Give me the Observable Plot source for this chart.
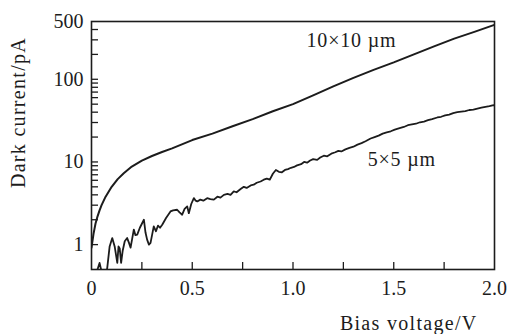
<!DOCTYPE html>
<html><head><meta charset="utf-8">
<script src="https://cdn.jsdelivr.net/npm/d3@7"></script>
<script src="https://cdn.jsdelivr.net/npm/@observablehq/plot@0.6"></script>
<style>body{margin:0;background:#fff}</style>
</head><body><div id="chart"></div>
<script>
// 10×10 µm device
const volts10 = [0, 0.01, 0.02, 0.03, 0.04, 0.05, 0.07, 0.1, 0.13, 0.16, 0.2, 0.25, 0.3, 0.35, 0.4, 0.5, 0.6, 0.7, 0.8, 0.9, 1.0, 1.1, 1.2, 1.3, 1.4, 1.5, 1.6, 1.7, 1.8, 1.9, 2.0];
const current10 = [0.92, 1.35, 1.8, 2.2, 2.6, 3.0, 3.8, 5.0, 6.2, 7.3, 8.8, 10.4, 11.8, 13.2, 14.6, 18.4, 22, 27, 33, 41, 50, 64, 82, 104, 130, 160, 200, 250, 310, 375, 455];
// 5×5 µm device
const volts5 = [0.02,0.04,0.052,0.065,0.078,0.09,0.103,0.115,0.128,0.134,0.14,0.147,0.155,0.165,0.177,0.186,0.194,0.21,0.218,0.227,0.24,0.26,0.268,0.276,0.285,0.293,0.309,0.32,0.33,0.34,0.351,0.37,0.392,0.405,0.425,0.437,0.45,0.462,0.475,0.483,0.495,0.508,0.517,0.525,0.54,0.555,0.574,0.59,0.607,0.625,0.64,0.657,0.675,0.69,0.706,0.72,0.74,0.756,0.77,0.79,0.805,0.82,0.839,0.855,0.87,0.885,0.9,0.915,0.93,0.945,0.96,0.975,0.99,1.005,1.02,1.04,1.055,1.07,1.085,1.1,1.12,1.135,1.153,1.17,1.19,1.21,1.225,1.24,1.26,1.28,1.3,1.32,1.34,1.36,1.385,1.405,1.425,1.445,1.465,1.485,1.505,1.525,1.55,1.57,1.59,1.61,1.63,1.65,1.67,1.69,1.716,1.735,1.755,1.775,1.795,1.815,1.835,1.855,1.875,1.895,1.915,1.935,1.955,1.975,1.99,2.0];
const current5 = [0.42,0.6,0.45,0.38,0.52,0.95,1.2,0.95,0.6,0.95,0.9,0.6,0.85,1.1,1.2,1.05,0.92,1.52,1.3,1.32,1.6,2.0,1.4,1.15,1.0,1.05,1.66,1.45,1.7,1.6,1.74,2.1,2.52,2.6,2.64,2.45,2.3,2.7,2.9,2.4,3.1,3.65,3.4,3.33,3.5,3.4,3.65,3.55,3.5,3.8,3.7,4.0,4.1,4.0,4.4,4.3,4.7,5.0,4.85,5.2,5.3,5.6,5.8,6.1,6.3,6.1,7.2,8.0,7.6,7.5,8.0,8.2,8.5,8.7,9.1,9.4,10.0,9.8,10.4,10.8,10.6,11.3,11.9,11.7,12.6,13.1,13.6,13.4,14.2,14.8,15.3,16.2,16.9,17.8,19.2,20.0,20.8,22.0,22.8,23.5,24.6,25.4,26.5,27.8,28.4,29.0,30.2,30.8,32.0,33.0,34.5,35.2,36.5,37.4,39.0,40.0,40.6,41.2,42.5,43.0,44.2,45.5,46.5,47.3,48.4,48.6];

const seriesNames = ["10×10 µm", "5×5 µm"];
const labelVolts = [1.29, 1.54];
const labelCurrents = [295, 10.6];

const xTickValues = [0, 0.5, 1.0, 1.5, 2.0];
const xTickLabels = ["0", "0.5", "1.0", "1.5", "2.0"];
const xMinorTicks = [0.25, 0.5, 0.75, 1.0, 1.25, 1.5, 1.75];
const yTickValues = [1, 10, 100, 500];
const yTickLabels = ["1", "10", "100", "500"];
const yMinorTicks = [1,2,3,4,5,6,7,8,9,10,20,30,40,50,60,70,80,90,100,200,300,400];

const xTitle = "Bias voltage/V";
const yTitle = "Dark current/pA";

const data10 = volts10.map((v, i) => ({V: v, I: current10[i]}));
const data5 = volts5.map((v, i) => ({V: v, I: current5[i]}));
const labels = seriesNames.map((s, i) => ({name: s, V: labelVolts[i], I: labelCurrents[i]}));
const yTicks = yTickValues.map((v, i) => ({I: v, label: yTickLabels[i]}));

const ink = "#1c1c1c";
const chart = Plot.plot({
  width: 508, height: 334,
  marginLeft: 91, marginRight: 14, marginTop: 21, marginBottom: 65,
  style: {fontFamily: "'Liberation Serif', 'Times New Roman', serif", fontSize: "20px", color: ink, background: "#fff"},
  x: {domain: [0, 2]},
  y: {type: "log", domain: [0.5, 500]},
  marks: [
    Plot.axisX(xMinorTicks, {tickSize: -7, text: null, label: null, strokeWidth: 1.3}),
    Plot.axisX(xTickValues, {tickSize: 0, tickPadding: 11, label: null, tickFormat: d => xTickLabels[xTickValues.indexOf(d)]}),
    Plot.axisY(yMinorTicks, {tickSize: -7, text: null, label: null, strokeWidth: 1.3}),
    Plot.text(yTicks, {y: "I", text: "label", frameAnchor: "left", textAnchor: "end", lineAnchor: "middle", dx: -8, fill: ink}),
    Plot.frame({stroke: ink, strokeWidth: 1.6}),
    Plot.line(data10, {x: "V", y: "I", stroke: ink, strokeWidth: 2, clip: true}),
    Plot.line(data5, {x: "V", y: "I", stroke: ink, strokeWidth: 1.8, clip: true}),
    Plot.text(labels, {x: "V", y: "I", text: "name", fill: ink, textAnchor: "middle", lineAnchor: "middle"}),
    Plot.text([xTitle], {frameAnchor: "bottom-right", textAnchor: "end", lineAnchor: "middle", dx: -17, dy: 54, fill: ink}),
    Plot.text([yTitle], {frameAnchor: "left", rotate: -90, textAnchor: "middle", lineAnchor: "middle", dx: -73, dy: -33, fill: ink})
  ]
});
d3.select(chart).selectAll("text")
  .filter(function() { return this.textContent === xTitle || this.textContent === yTitle; })
  .attr("letter-spacing", "1.3px");
d3.select(chart).selectAll("text")
  .filter(function() { return seriesNames.includes(this.textContent); })
  .attr("letter-spacing", "0.8px");
document.getElementById("chart").appendChild(chart);
</script>
</body></html>
